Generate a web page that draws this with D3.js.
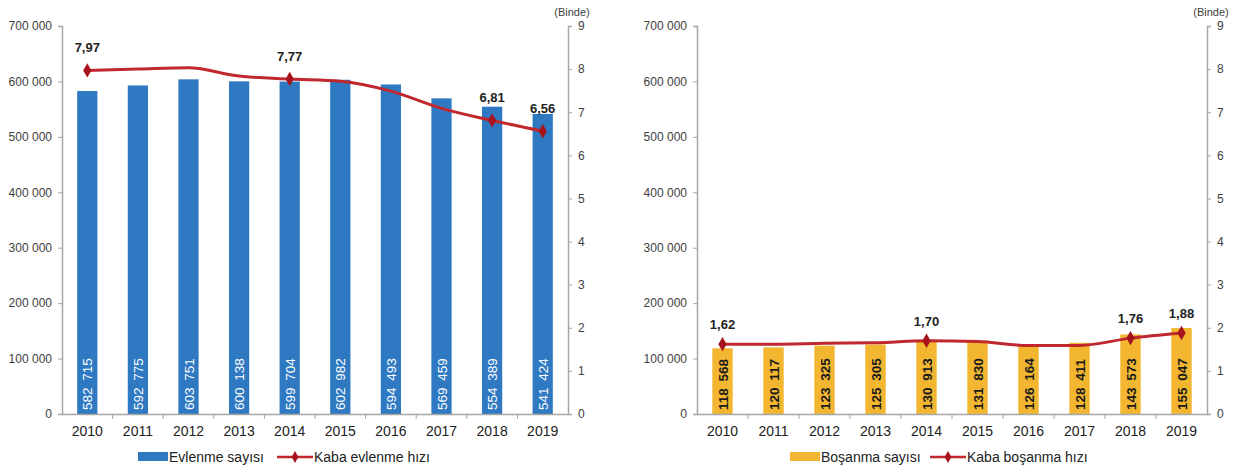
<!DOCTYPE html>
<html>
<head>
<meta charset="utf-8">
<script src="https://cdn.jsdelivr.net/npm/d3@7"></script>
<style>
  html, body { margin: 0; padding: 0; background: #fff; }
  svg { display: block; font-family: "Liberation Sans", Arial, sans-serif; }
</style>
</head>
<body>
<svg id="chart" width="1240" height="472"></svg>
<script>
// ---- data ----
const years = ["2010","2011","2012","2013","2014","2015","2016","2017","2018","2019"];
const marriages = [582715, 592775, 603751, 600138, 599704, 602982, 594493, 569459, 554389, 541424];
const marriageRate = [7.97, 8.00, 8.03, 7.84, 7.77, 7.72, 7.49, 7.09, 6.81, 6.56];
const divorces = [118568, 120117, 123325, 125305, 130913, 131830, 126164, 128411, 143573, 155047];
const divorceRate = [1.62, 1.62, 1.64, 1.65, 1.70, 1.68, 1.59, 1.59, 1.76, 1.88];
const labelledYears = ["2010", "2014", "2018", "2019"];
const countTicks = [0, 100000, 200000, 300000, 400000, 500000, 600000, 700000];
const rateTicks = [0, 1, 2, 3, 4, 5, 6, 7, 8, 9];
const unitLabel = "(Binde)";

const svg = d3.select("#chart");
const fmtCount = v => d3.format(",")(v).replace(/,/g, " ");
const fmtBarLabel = v => d3.format(",")(v).replace(/,/g, "\u2002");
const fmtRate = v => d3.format(".2f")(v).replace(".", ",");

function drawChart(cfg) {
  const g = svg.append("g");
  const x = d3.scaleBand().domain(years).range([cfg.x0, cfg.x1]).paddingInner(0.6).paddingOuter(0.3);
  const xOuter = d3.scaleBand().domain(years).range([cfg.x0, cfg.x1]);
  const y = d3.scaleLinear().domain([0, 700000]).range([414, 26]);
  const y2 = d3.scaleLinear().domain([0, 9]).range([414, 26]);
  const axisColor = "#a6a6a6";

  // bars
  g.selectAll("rect.bar").data(cfg.counts).join("rect")
    .attr("class", "bar")
    .attr("x", (d, i) => x(years[i]))
    .attr("width", x.bandwidth())
    .attr("y", d => y(d))
    .attr("height", d => y(0) - y(d))
    .attr("fill", cfg.barColor);

  // bar labels (vertical)
  g.selectAll("text.barlabel").data(cfg.counts).join("text")
    .attr("class", "barlabel")
    .attr("transform", (d, i) => `translate(${x(years[i]) + x.bandwidth() / 2 + 5},${y(0) - 4}) rotate(-90)`)
    .attr("font-size", 13.5)
    .attr("font-weight", cfg.barLabelWeight)
    .attr("fill", cfg.barLabelColor)
    .text(d => fmtBarLabel(d));

  // left axis
  const ax = g.append("g").attr("transform", `translate(${cfg.x0},0)`)
    .call(d3.axisLeft(y).tickValues(countTicks).tickFormat(fmtCount).tickSize(4).tickPadding(6));
  ax.select(".domain").attr("stroke", axisColor).attr("stroke-width", 1.5);
  ax.selectAll(".tick line").attr("stroke", axisColor);
  ax.selectAll(".tick text").attr("font-size", 12).attr("fill", "#404040")
    .attr("font-family", "Liberation Sans, Arial, sans-serif");

  // right axis
  const ar = g.append("g").attr("transform", `translate(${cfg.x1},0)`)
    .call(d3.axisRight(y2).tickValues(rateTicks).tickSize(4).tickPadding(6));
  ar.select(".domain").attr("stroke", axisColor).attr("stroke-width", 1.5);
  ar.selectAll(".tick line").attr("stroke", axisColor);
  ar.selectAll(".tick text").attr("font-size", 12).attr("fill", "#404040")
    .attr("font-family", "Liberation Sans, Arial, sans-serif");
  g.append("text").attr("x", cfg.x1 + 4).attr("y", 16).attr("text-anchor", "middle")
    .attr("font-size", 11).attr("fill", "#404040").text(unitLabel);

  // bottom axis
  const ab = g.append("g").attr("transform", `translate(0,414)`)
    .call(d3.axisBottom(xOuter).tickSize(0).tickPadding(12));
  ab.select(".domain").attr("stroke", axisColor).attr("stroke-width", 1.5);
  ab.selectAll(".tick text").attr("font-size", 14).attr("fill", "#222")
    .attr("font-family", "Liberation Sans, Arial, sans-serif");
  // category separator ticks
  g.selectAll("line.sep").data(years.slice(1)).join("line")
    .attr("class", "sep")
    .attr("x1", d => xOuter(d)).attr("x2", d => xOuter(d))
    .attr("y1", 414).attr("y2", 419)
    .attr("stroke", axisColor);

  // line
  const cx = (d, i) => x(years[i]) + x.bandwidth() / 2;
  const line = d3.line().x(cx).y(d => y2(d)).curve(d3.curveMonotoneX);
  g.append("path").datum(cfg.rates).attr("d", line)
    .attr("fill", "none").attr("stroke", "#c0282d").attr("stroke-width", 3);
  const labelled = cfg.rates.map((d, i) => ({ v: d, i })).filter(o => labelledYears.includes(years[o.i]));
  g.selectAll("path.mk").data(labelled).join("path")
    .attr("class", "mk")
    .attr("d", d3.symbol(d3.symbolDiamond, 60))
    .attr("transform", o => `translate(${cx(o.v, o.i)},${y2(o.v)})`)
    .attr("fill", "#a8141e");
  g.selectAll("text.ratelabel").data(labelled).join("text")
    .attr("class", "ratelabel")
    .attr("x", o => cx(o.v, o.i))
    .attr("y", o => y2(o.v) - cfg.labelOffset)
    .attr("text-anchor", "middle")
    .attr("font-size", 13).attr("font-weight", "bold").attr("fill", "#222")
    .text(o => fmtRate(o.v));

  // legend
  const lg = g.append("g");
  lg.append("rect").attr("x", cfg.legendX).attr("y", 452).attr("width", 30).attr("height", 9)
    .attr("fill", cfg.barColor);
  lg.append("text").attr("x", cfg.legendX + 31).attr("y", 462).attr("font-size", 14)
    .attr("fill", "#222").text(cfg.barName);
  lg.append("line").attr("x1", cfg.legendX2).attr("x2", cfg.legendX2 + 36)
    .attr("y1", 457).attr("y2", 457).attr("stroke", "#c0282d").attr("stroke-width", 2.5);
  lg.append("path").attr("d", d3.symbol(d3.symbolDiamond, 40))
    .attr("transform", `translate(${cfg.legendX2 + 18},457)`).attr("fill", "#a8141e");
  lg.append("text").attr("x", cfg.legendX2 + 37).attr("y", 462).attr("font-size", 14)
    .attr("fill", "#222").text(cfg.lineName);
}

drawChart({
  x0: 62, x1: 568, counts: marriages, rates: marriageRate,
  barColor: "#2e79c2", barLabelColor: "#ffffff", barLabelWeight: "normal",
  labelOffset: 18, legendX: 138, legendX2: 277,
  barName: "Evlenme sayısı", lineName: "Kaba evlenme hızı"
});
drawChart({
  x0: 697, x1: 1207, counts: divorces, rates: divorceRate,
  barColor: "#f2b630", barLabelColor: "#1a1a1a", barLabelWeight: "bold",
  labelOffset: 15, legendX: 790, legendX2: 930,
  barName: "Boşanma sayısı", lineName: "Kaba boşanma hızı"
});
</script>
</body>
</html>
